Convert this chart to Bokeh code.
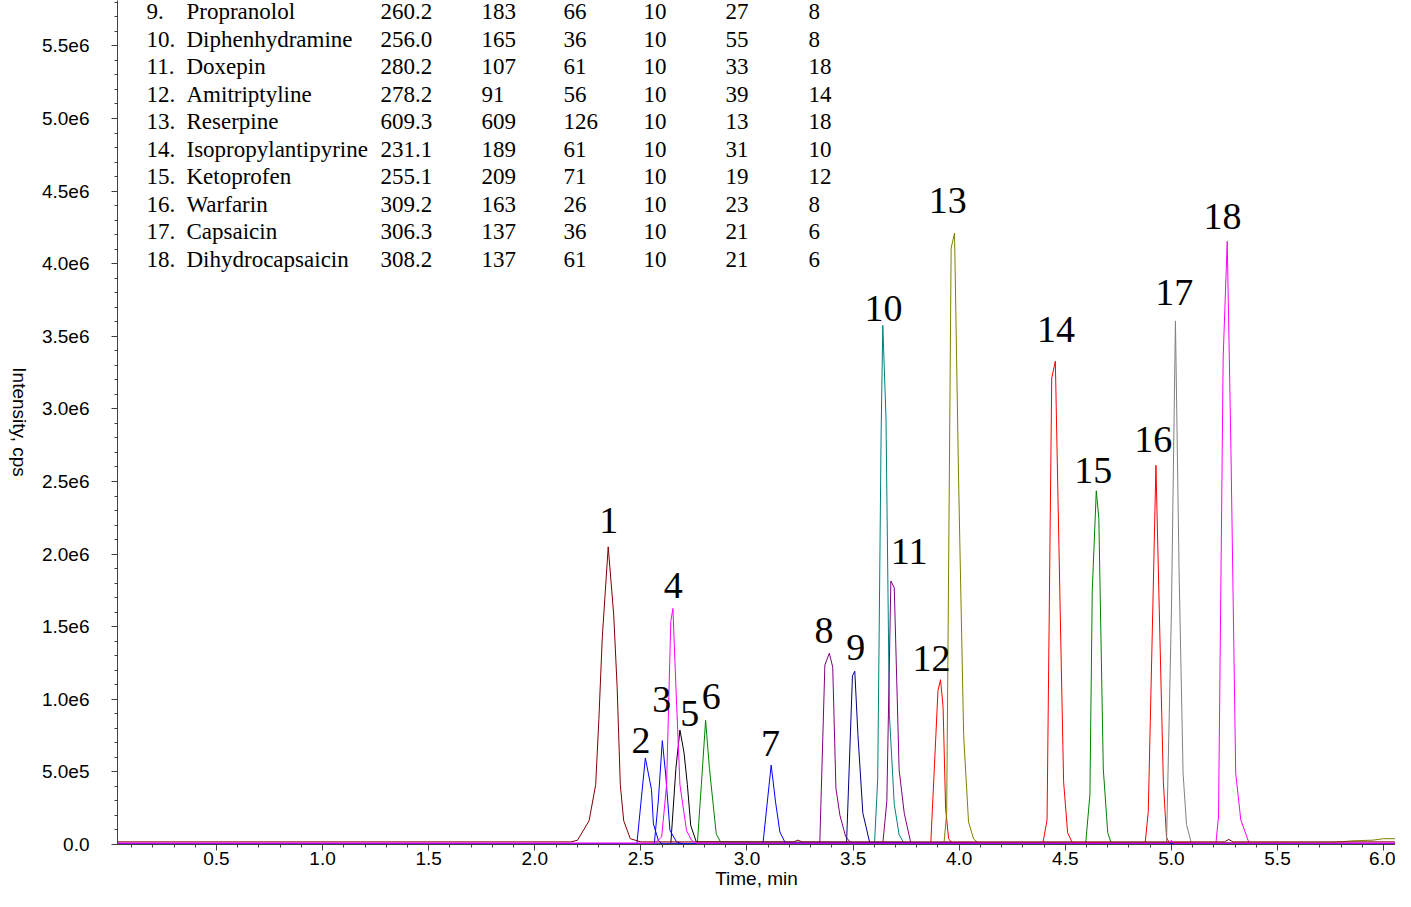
from bokeh.plotting import figure
from bokeh.layouts import row
from bokeh.models import Range1d, SingleIntervalTicker, LabelSet, ColumnDataSource
from bokeh.core.properties import value
from bokeh.embed import file_html
from bokeh.resources import INLINE

# ---------------- data (time in min, intensity in millions of cps) ----------------
UNIT = 1e6

t01 = [0.03, 2.17, 2.201, 2.256, 2.287, 2.302, 2.318, 2.346, 2.372, 2.388, 2.403, 2.419, 2.45, 2.50, 3.22, 3.24, 3.26, 5.25, 5.27, 5.29, 6.07]
y01 = [0.018, 0.018, 0.029, 0.164, 0.412, 0.862, 1.424, 2.05, 1.581, 1.087, 0.412, 0.164, 0.04, 0.018, 0.018, 0.03, 0.018, 0.018, 0.035, 0.018, 0.018]
t02 = [0.03, 2.481, 2.521, 2.550, 2.559, 2.582, 2.60, 6.07]
y02 = [0.003, 0.003, 0.596, 0.378, 0.142, 0.03, 0.003, 0.003]
t03 = [0.03, 2.563, 2.582, 2.601, 2.617, 2.637, 2.668, 2.70, 6.07]
y03 = [0.003, 0.003, 0.299, 0.715, 0.479, 0.097, 0.018, 0.003, 0.003]
t04 = [0.03, 2.567, 2.598, 2.621, 2.641, 2.651, 2.665, 2.684, 2.715, 2.738, 2.76, 4.99, 5.0, 5.01, 6.07]
y04 = [0.009, 0.009, 0.052, 0.41, 1.537, 1.626, 1.087, 0.412, 0.097, 0.03, 0.009, 0.009, 0.03, 0.009, 0.009]
t05 = [0.03, 2.641, 2.665, 2.684, 2.703, 2.719, 2.735, 2.761, 6.07]
y05 = [0.005, 0.005, 0.524, 0.788, 0.636, 0.412, 0.13, 0.018, 0.005]
t06 = [0.03, 2.766, 2.785, 2.805, 2.823, 2.855, 2.878, 6.07]
y06 = [0.006, 0.006, 0.412, 0.855, 0.524, 0.074, 0.01, 0.006]
t07 = [0.03, 3.075, 3.114, 3.134, 3.155, 3.181, 6.07]
y07 = [0.003, 0.003, 0.547, 0.299, 0.086, 0.01, 0.003]
t08 = [0.03, 3.343, 3.367, 3.388, 3.404, 3.419, 3.438, 3.465, 3.49, 6.07]
y08 = [0.006, 0.006, 1.236, 1.318, 1.221, 0.389, 0.2, 0.054, 0.01, 0.006]
t09 = [0.03, 3.469, 3.497, 3.508, 3.523, 3.546, 3.578, 6.07]
y09 = [0.003, 0.003, 1.162, 1.193, 0.749, 0.216, 0.015, 0.003]
t10 = [0.03, 3.601, 3.616, 3.632, 3.640, 3.655, 3.671, 3.694, 3.717, 3.74, 6.07]
y10 = [0.006, 0.006, 0.452, 2.82, 3.575, 2.937, 0.897, 0.277, 0.067, 0.01, 0.006]
t11 = [0.03, 3.640, 3.659, 3.678, 3.694, 3.717, 3.741, 3.772, 6.07]
y11 = [0.006, 0.006, 0.30, 1.815, 1.768, 0.513, 0.216, 0.01, 0.006]
t12 = [0.03, 3.866, 3.900, 3.912, 3.924, 3.936, 3.950, 3.967, 6.07]
y12 = [0.006, 0.006, 1.06, 1.135, 0.95, 0.25, 0.04, 0.01, 0.006]
t13 = [0.03, 3.928, 3.941, 3.962, 3.978, 3.997, 4.021, 4.044, 4.068, 4.09, 5.75, 5.85, 5.95, 6.0, 6.07]
y13 = [0.006, 0.006, 0.216, 4.107, 4.211, 2.524, 0.749, 0.155, 0.038, 0.01, 0.012, 0.025, 0.03, 0.04, 0.04]
t14 = [0.03, 4.394, 4.414, 4.436, 4.453, 4.476, 4.492, 4.511, 4.534, 6.07]
y14 = [0.006, 0.006, 0.169, 3.212, 3.329, 1.602, 0.432, 0.081, 0.01, 0.006]
t15 = [0.03, 4.596, 4.616, 4.627, 4.646, 4.658, 4.679, 4.700, 4.716, 6.07]
y15 = [0.006, 0.006, 0.344, 1.748, 2.436, 2.247, 0.52, 0.081, 0.01, 0.006]
t16 = [0.03, 4.876, 4.891, 4.912, 4.927, 4.943, 4.962, 4.977, 4.99, 6.07]
y16 = [0.006, 0.006, 0.226, 1.602, 2.612, 1.602, 0.432, 0.05, 0.01, 0.006]
t17 = [0.03, 4.977, 5.000, 5.019, 5.036, 5.055, 5.071, 5.094, 6.07]
y17 = [0.006, 0.006, 1.602, 3.606, 1.894, 0.49, 0.138, 0.01, 0.006]
t18 = [0.03, 5.210, 5.222, 5.244, 5.263, 5.280, 5.303, 5.327, 5.366, 6.07]
y18 = [0.009, 0.009, 0.197, 3.357, 4.154, 2.772, 0.49, 0.169, 0.01, 0.009]

trace_colors = ["#800000", "#0000FF", "#0000FF", "#FF00FF", "#000000", "#008000",
                "#0000FF", "#800080", "#000080", "#008080", "#800080", "#FF0000",
                "#808000", "#FF0000", "#008000", "#FF0000", "#808080", "#FF00FF"]

# peak number labels (time, intensity in millions)
peak_names = [str(i) for i in range(1, 19)]
peak_label_t = [2.349, 2.501, 2.598, 2.652, 2.730, 2.831, 3.111, 3.363, 3.512,
                3.643, 3.764, 3.870, 3.946, 4.456, 4.632, 4.915, 5.013, 5.241]
peak_label_i = [2.234, 0.715, 0.997, 1.784, 0.902, 1.019, 0.693, 1.473, 1.354,
                3.693, 2.021, 1.281, 4.434, 3.548, 2.573, 2.787, 3.803, 4.323]

# compound table (visible rows 9-18)
tbl_no = ["9.", "10.", "11.", "12.", "13.", "14.", "15.", "16.", "17.", "18."]
tbl_name = ["Propranolol", "Diphenhydramine", "Doxepin", "Amitriptyline", "Reserpine",
            "Isopropylantipyrine", "Ketoprofen", "Warfarin", "Capsaicin", "Dihydrocapsaicin"]
tbl_q1 = ["260.2", "256.0", "280.2", "278.2", "609.3", "231.1", "255.1", "309.2", "306.3", "308.2"]
tbl_q3 = ["183", "165", "107", "91", "609", "189", "209", "163", "137", "137"]
tbl_dp = ["66", "36", "61", "56", "126", "61", "71", "26", "36", "61"]
tbl_ep = ["10", "10", "10", "10", "10", "10", "10", "10", "10", "10"]
tbl_ce = ["27", "55", "33", "39", "13", "31", "19", "23", "21", "21"]
tbl_cxp = ["8", "8", "18", "14", "18", "10", "12", "8", "6", "6"]

x_tick_values = [0.5, 1.0, 1.5, 2.0, 2.5, 3.0, 3.5, 4.0, 4.5, 5.0, 5.5, 6.0]
x_tick_labels = ["0.5", "1.0", "1.5", "2.0", "2.5", "3.0", "3.5", "4.0", "4.5", "5.0", "5.5", "6.0"]
y_tick_values = [0, 500000, 1000000, 1500000, 2000000, 2500000, 3000000, 3500000,
                 4000000, 4500000, 5000000, 5500000]
y_tick_labels = ["0.0", "5.0e5", "1.0e6", "1.5e6", "2.0e6", "2.5e6", "3.0e6", "3.5e6",
                 "4.0e6", "4.5e6", "5.0e6", "5.5e6"]

x_title = "Time, min"
y_title = "Intensity, cps"

# ---------------- layout sizes ----------------
TOTAL_W, TOTAL_H = 1395, 891
YT_W = 34                     # strip holding the y-axis title
X0, X1 = 0.0336, 6.056
Y0, Y1 = 0.0, 5.8127e6

# ---- y-axis title strip (text reads top-to-bottom) ----
yt = figure(width=YT_W, height=TOTAL_H, output_backend="svg", toolbar_location=None,
            x_range=Range1d(0, YT_W), y_range=Range1d(TOTAL_H, 0),
            x_axis_type=None, y_axis_type=None,
            min_border_left=0, min_border_right=0, min_border_top=0, min_border_bottom=0)
yt.outline_line_color = None
yt.xgrid.visible = False
yt.ygrid.visible = False
yt.text(x=[YT_W / 2 + 2], y=[445], text=[y_title], angle=-1.5707963,
        text_font=value("Liberation Sans"), text_font_size="19px",
        text_align="center", text_baseline="middle", text_color="black")

# ---- main chart ----
p = figure(width=TOTAL_W - YT_W, height=TOTAL_H, output_backend="svg", toolbar_location=None,
           x_range=Range1d(X0, X1), y_range=Range1d(Y0, Y1),
           min_border_left=117 - YT_W, min_border_right=0, min_border_top=0, min_border_bottom=40)
p.outline_line_color = None
p.background_fill_color = "white"
p.border_fill_color = "white"
p.xgrid.visible = False
p.ygrid.visible = False

ts = [t01, t02, t03, t04, t05, t06, t07, t08, t09, t10, t11, t12, t13, t14, t15, t16, t17, t18]
ys = [y01, y02, y03, y04, y05, y06, y07, y08, y09, y10, y11, y12, y13, y14, y15, y16, y17, y18]
order = [4, 17, 5, 7, 8, 9, 10, 11, 12, 13, 14, 15, 16, 1, 2, 6, 0, 3]
for k in order:
    p.line(ts[k], [v * UNIT for v in ys[k]], line_color=trace_colors[k], line_width=1)

# peak labels
p.text(x=peak_label_t, y=[v * UNIT for v in peak_label_i], text=peak_names,
       text_font=value("Liberation Serif"), text_font_size="38px",
       text_align="center", text_baseline="middle", text_color="black")

# table as annotations
col_x = [0.1703, 0.3588, 1.2730, 1.7490, 2.1354, 2.5124, 2.8988, 3.2900]
row0_i = 5.737
row_step = 0.1897
cols = [tbl_no, tbl_name, tbl_q1, tbl_q3, tbl_dp, tbl_ep, tbl_ce, tbl_cxp]
xs, yv, txt = [], [], []
for cx, col in zip(col_x, cols):
    for r, s in enumerate(col):
        xs.append(cx)
        yv.append((row0_i - r * row_step) * UNIT)
        txt.append(s)
src = ColumnDataSource(dict(x=xs, y=yv, text=txt))
p.add_layout(LabelSet(x="x", y="y", text="text", source=src,
                      text_font=value("Liberation Serif"), text_font_size="23px",
                      text_align="left", text_baseline="middle", text_color="black"))

# axes
for ax in (p.xaxis[0], p.yaxis[0]):
    ax.axis_line_color = "#404040"
    ax.major_tick_line_color = "#404040"
    ax.minor_tick_line_color = "#404040"
    ax.major_tick_out = 6
    ax.major_tick_in = 0
    ax.minor_tick_out = 3
    ax.minor_tick_in = 0
    ax.major_label_text_font = "Liberation Sans"
    ax.major_label_text_font_size = "19px"
    ax.major_label_text_color = "black"
    ax.axis_label_text_font = "Liberation Sans"
    ax.axis_label_text_font_size = "19px"
    ax.axis_label_text_font_style = "normal"
    ax.axis_label_text_color = "black"

p.xaxis[0].ticker = SingleIntervalTicker(interval=0.5, num_minor_ticks=5)
p.yaxis[0].ticker = SingleIntervalTicker(interval=500000, num_minor_ticks=5)
p.xaxis[0].major_label_overrides = dict(zip(x_tick_values, x_tick_labels))
p.yaxis[0].major_label_overrides = dict(zip(y_tick_values, y_tick_labels))
p.xaxis[0].major_label_standoff = 1
p.yaxis[0].major_label_standoff = 22

p.xaxis[0].axis_label = x_title
p.xaxis[0].axis_label_standoff = 0

layout = row(yt, p, spacing=0)
open("out.html", "w").write(file_html(layout, INLINE))
